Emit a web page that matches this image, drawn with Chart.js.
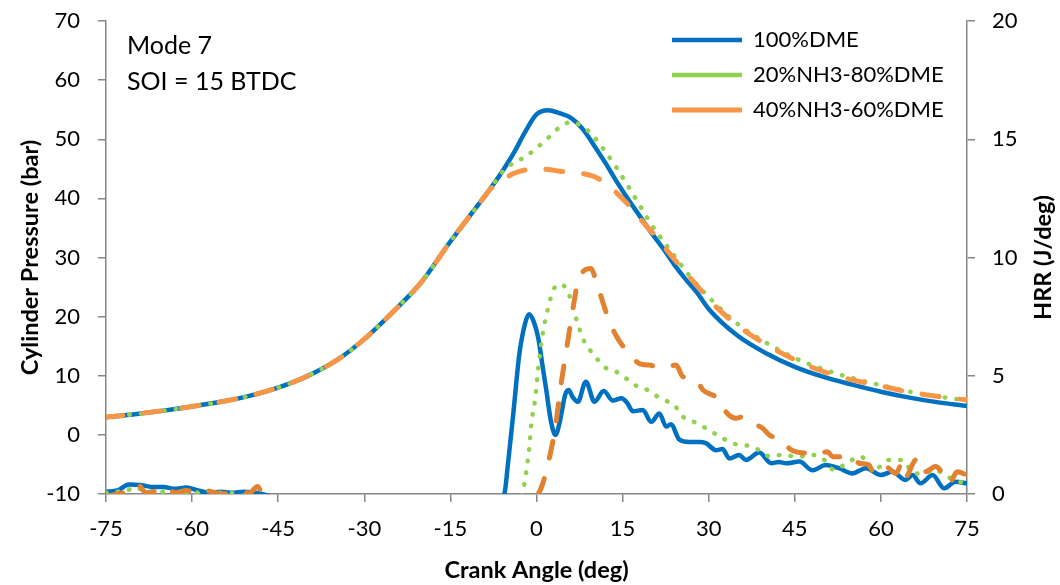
<!DOCTYPE html>
<html>
<head>
<meta charset="utf-8">
<title>Cylinder pressure and HRR - Mode 7</title>
<script src="https://cdn.jsdelivr.net/npm/chart.js@4.4.1/dist/chart.umd.min.js"></script>
<style>
  html, body { margin: 0; padding: 0; background: #fff; }
  #wrap { width: 1060px; height: 585px; }
</style>
</head>
<body>
<div id="wrap"><canvas id="pressureChart" width="1060" height="585"></canvas></div>
<script>
// --- data ---
const seriesNames = ['100%DME', '20%NH3-80%DME', '40%NH3-60%DME'];
const noteLines = ['Mode 7', 'SOI = 15 BTDC'];
const xTitle = 'Crank Angle (deg)';
const yTitle = 'Cylinder Pressure (bar)';
const y1Title = 'HRR (J/deg)';

// cylinder pressure (bar), shared crank angle grid
const pressureAngle = [-75, -70, -65, -60, -55, -50, -45, -40, -35, -30, -25, -20, -15, -10, -8, -6, -4, -2, 0, 2, 4, 6, 8, 10, 12, 14, 16, 18, 20, 22, 24, 26, 28, 30, 35, 40, 45, 50, 55, 60, 65, 70, 75];
const pressure100 = [3.0, 3.5, 4.1, 4.8, 5.6, 6.6, 8.0, 9.9, 12.5, 16.2, 20.8, 25.9, 32.7, 39.1, 41.7, 44.5, 47.6, 51.2, 54.2, 54.9, 54.4, 53.6, 51.8, 49.0, 46.0, 42.8, 39.8, 37.0, 34.2, 31.6, 28.8, 26.3, 24.0, 21.3, 16.8, 13.8, 11.5, 9.8, 8.5, 7.3, 6.3, 5.5, 4.9];
const pressure20 = [3.0, 3.5, 4.1, 4.8, 5.6, 6.6, 8.0, 9.9, 12.5, 16.2, 20.8, 25.9, 32.7, 39.1, 41.7, 44.4, 46.0, 47.0, 48.5, 50.2, 52.0, 52.9, 52.2, 50.4, 47.9, 45.1, 42.0, 38.8, 35.6, 32.9, 30.3, 27.7, 25.4, 23.3, 18.8, 15.6, 13.0, 11.1, 9.6, 8.4, 7.3, 6.5, 5.8];
const pressure40 = [3.0, 3.5, 4.1, 4.8, 5.6, 6.6, 8.0, 9.9, 12.5, 16.2, 20.8, 25.9, 32.7, 39.1, 41.6, 43.0, 44.2, 44.8, 45.0, 44.9, 44.6, 44.4, 44.2, 43.7, 42.6, 40.9, 38.9, 36.6, 34.4, 32.1, 29.7, 27.4, 25.2, 22.9, 18.5, 15.3, 12.7, 10.7, 9.3, 8.3, 7.2, 6.5, 5.9];

// heat release rate (J/deg)
const hrrAngle100 = [-75, -73, -71, -69, -67, -65, -63, -61, -59, -57, -55, -53, -51, -49, -47, -45, -40, -30, -20, -10, -6.5, -5.6, -5, -4, -3, -2, -1.3, -0.5, 0.3, 1, 1.7, 2.5, 3.3, 4.1, 5, 5.6, 6.3, 7.2, 8.6, 10.1, 11.7, 13.3, 14.8, 15.8, 16.8, 18.5, 20, 21.4, 22.6, 23.4, 24.9, 26.6, 28.4, 29.5, 31.3, 32.4, 33.6, 35.3, 36.5, 38.8, 40.9, 42.2, 43.5, 45.8, 48.1, 50.4, 52.7, 55, 57.4, 60, 62, 64.3, 65.5, 66.9, 69, 71, 73, 75];
const hrr100 = [0.1, 0.15, 0.4, 0.38, 0.3, 0.3, 0.22, 0.28, 0.15, 0.05, 0.1, 0.05, 0.1, 0.05, -0.05, -0.2, -0.3, -0.3, -0.3, -0.3, -0.2, 0, 1.2, 3.5, 5.9, 7.2, 7.6, 7.3, 6.6, 5.5, 4.4, 3.1, 2.5, 3.1, 4.2, 4.4, 4.1, 3.9, 4.75, 3.9, 4.35, 3.95, 4.05, 3.85, 3.5, 3.55, 3.05, 3.4, 2.85, 2.95, 2.3, 2.2, 2.2, 2.15, 1.85, 1.9, 1.5, 1.65, 1.44, 1.75, 1.3, 1.35, 1.3, 1.37, 1.0, 1.23, 1.09, 0.87, 1.09, 0.8, 0.94, 0.59, 0.8, 0.45, 0.8, 0.24, 0.52, 0.45];

const hrrAngle20 = [-75, -73, -71.3, -70, -68, -66, -64, -62, -60, -57.7, -55, -52, -50, -40, -20, -5, -2.6, -2.2, -1.8, -1.3, -0.9, -0.3, 0.3, 1.1, 2, 2.9, 3.7, 4.5, 5.7, 6.9, 8.2, 9.3, 10.7, 12.2, 13.9, 15.6, 17.1, 18.8, 20.6, 22.3, 24, 25.5, 27, 29, 32.3, 34.2, 35.9, 37.7, 40.9, 42.6, 45.8, 48.1, 49.8, 51.9, 53.6, 56.5, 58.8, 61.4, 63.7, 65.8, 67.5, 69.5, 71.6, 73.6, 75];
const hrr20 = [0.05, 0.1, 0.15, 0.3, 0.1, 0.12, 0.05, 0.08, 0, 0.15, 0.05, 0, -0.15, -0.3, -0.3, -0.3, -0.1, 0.3, 0.94, 1.86, 2.99, 3.9, 5.3, 6.8, 7.85, 8.6, 8.85, 8.84, 8.41, 7.43, 6.51, 6.09, 5.67, 5.31, 5.17, 4.89, 4.61, 4.47, 4.19, 3.97, 3.76, 3.27, 3.1, 2.85, 2.38, 2.14, 2.07, 2.0, 1.58, 1.65, 1.58, 1.65, 1.51, 1.01, 1.23, 1.58, 1.01, 1.44, 1.44, 0.87, 0.87, 1.01, 0.73, 0.52, 0.45];

const hrrAngle40 = [-75, -72, -71, -69.5, -68, -66, -64.5, -63, -61, -59, -57, -55, -53, -50, -48.6, -47.6, -45, -30, -10, -1, 0.3, 1.1, 2.3, 3.3, 4.3, 5.3, 6.5, 7.2, 8.3, 9.5, 10.4, 11.9, 12.7, 14.5, 16.2, 18, 19.7, 20.9, 22.3, 24.3, 25.5, 27.8, 29, 30.5, 31.9, 32.4, 34.8, 35.9, 37.5, 39.4, 40.6, 42, 43.5, 44, 46.9, 48.5, 50.7, 51.6, 55, 56.2, 57.9, 58.8, 60.8, 62.6, 63.7, 64.3, 66.1, 66.9, 68.4, 69.5, 71, 71.9, 73.3, 75];
const hrr40 = [-0.1, 0.05, 0.1, 0.4, 0.05, 0.15, 0.3, 0.05, 0.15, 0, 0.12, 0, 0.05, 0.05, 0.32, -0.1, -0.3, -0.35, -0.35, -0.3, 0, 0.45, 1.58, 2.85, 4.68, 6.23, 8.06, 8.98, 9.45, 9.54, 8.98, 7.85, 7.29, 6.44, 5.95, 5.5, 5.45, 5.38, 5.35, 5.45, 4.96, 4.82, 4.4, 4.2, 4.0, 3.69, 3.2, 3.27, 3.0, 2.78, 2.49, 2.35, 2.14, 1.93, 1.72, 1.65, 1.79, 1.58, 1.58, 1.3, 1.23, 0.87, 1.16, 0.87, 1.3, 0.73, 1.44, 0.87, 1.01, 1.16, 0.8, 0.45, 0.94, 0.8];

// --- look ---
const BLUE = '#0070C0';
const GREEN = '#92D050';
const ORANGE = '#F79646';
const ORANGE_DARK = '#E2812F';
const AXIS_GREY = '#868686';
const FONT = 'Lato';

function toPoints(xs, ys) {
    return xs.map((x, i) => ({ x: x, y: ys[i] }));
}

// order: blue at the bottom, then green dots, orange dashes on top
const styles = [
    { color: BLUE, width: 4.5, dash: [], cap: 'round', order: 3 },
    { color: GREEN, width: 4.5, dash: [0.5, 11.2], cap: 'round', order: 2 },
    { color: ORANGE, width: 5, dash: [17, 21], cap: 'round', order: 1 }
];

function lineSet(label, pts, style, axis, color) {
    return {
        label: label,
        data: pts,
        yAxisID: axis,
        order: style.order,
        borderColor: color || style.color,
        backgroundColor: color || style.color,
        borderWidth: style.width,
        borderDash: style.dash,
        borderCapStyle: style.cap,
        borderJoinStyle: 'round',
        pointRadius: 0,
        pointHoverRadius: 0,
        cubicInterpolationMode: 'monotone',
        fill: false
    };
}

const datasets = [
    lineSet(seriesNames[0], toPoints(pressureAngle, pressure100), styles[0], 'y'),
    lineSet(seriesNames[1], toPoints(pressureAngle, pressure20), styles[1], 'y'),
    lineSet(seriesNames[2], toPoints(pressureAngle, pressure40), styles[2], 'y'),
    lineSet(seriesNames[0] + ' HRR', toPoints(hrrAngle100, hrr100), styles[0], 'y1'),
    lineSet(seriesNames[1] + ' HRR', toPoints(hrrAngle20, hrr20), styles[1], 'y1'),
    lineSet(seriesNames[2] + ' HRR', toPoints(hrrAngle40, hrr40), styles[2], 'y1', ORANGE_DARK)
];

// legend sits inside the plot, top right
const legendSpot = {
    id: 'legendSpot',
    afterLayout(chart) {
        const lg = chart.legend;
        if (!lg) return;
        const h = lg.height;
        const w = lg.width;
        lg.left = 659;
        lg.top = 16;
        lg.right = lg.left + w;
        lg.bottom = lg.top + h;
    }
};

// note text + both y axis titles (both read bottom to top, like the original)
const textLayer = {
    id: 'textLayer',
    afterDraw(chart) {
        const ctx = chart.ctx;
        const area = chart.chartArea;
        const midY = (area.top + area.bottom) / 2;
        ctx.save();
        ctx.fillStyle = '#000';
        ctx.textBaseline = 'middle';
        ctx.textAlign = 'left';
        ctx.font = '25px ' + FONT;
        ctx.fillText(noteLines[0], 127, 46);
        ctx.fillText(noteLines[1], 127, 82);

        ctx.font = 'bold 23.5px ' + FONT;
        ctx.textAlign = 'center';
        ctx.save();
        ctx.translate(30, midY);
        ctx.rotate(-Math.PI / 2);
        ctx.fillText(yTitle, 0, 0);
        ctx.restore();

        ctx.save();
        ctx.translate(1043, midY);
        ctx.rotate(-Math.PI / 2);
        ctx.fillText(y1Title, 0, 0);
        ctx.restore();
        ctx.restore();
    }
};

const tickFont = { family: FONT, size: 22 };
const edge = { color: AXIS_GREY, width: 1.5 };
const tickGrid = { drawOnChartArea: false, drawTicks: true, tickLength: 8, color: AXIS_GREY, lineWidth: 1.5 };

function fixWidth(w) {
    return s => {
        s.width = w;
        s.paddingTop = 0;
        s.paddingBottom = 0;
    };
}

new Chart(document.getElementById('pressureChart'), {
    type: 'line',
    data: { datasets: datasets },
    options: {
        responsive: false,
        animation: false,
        devicePixelRatio: 1,
        layout: { padding: { top: 21, left: 0, right: 0, bottom: 0 } },
        plugins: {
            tooltip: { enabled: false },
            legend: {
                position: 'chartArea',
                align: 'start',
                labels: {
                    usePointStyle: true,
                    pointStyle: 'line',
                    pointStyleWidth: 70,
                    padding: 13,
                    color: '#000',
                    font: { family: FONT, size: 22 },
                    filter: item => item.datasetIndex < 3,
                    sort: (a, b) => a.datasetIndex - b.datasetIndex
                }
            }
        },
        scales: {
            x: {
                type: 'linear',
                min: -75,
                max: 75,
                ticks: { stepSize: 15, autoSkip: false, maxRotation: 0, padding: 14, color: '#000', font: tickFont },
                grid: tickGrid,
                border: edge,
                title: {
                    display: true,
                    text: xTitle,
                    color: '#000',
                    font: { family: FONT, size: 23.5, weight: 'bold' },
                    padding: { top: 0, bottom: 0 }
                },
                afterFit: s => { s.height = 91; }
            },
            y: {
                position: 'left',
                min: -10,
                max: 70,
                ticks: { stepSize: 10, padding: 18, color: '#000', font: tickFont },
                grid: tickGrid,
                border: edge,
                afterFit: fixWidth(106)
            },
            y1: {
                position: 'right',
                min: 0,
                max: 20,
                ticks: { stepSize: 5, padding: 17, color: '#000', font: tickFont },
                grid: tickGrid,
                border: edge,
                afterFit: fixWidth(93)
            }
        }
    },
    plugins: [legendSpot, textLayer]
});
</script>
</body>
</html>
